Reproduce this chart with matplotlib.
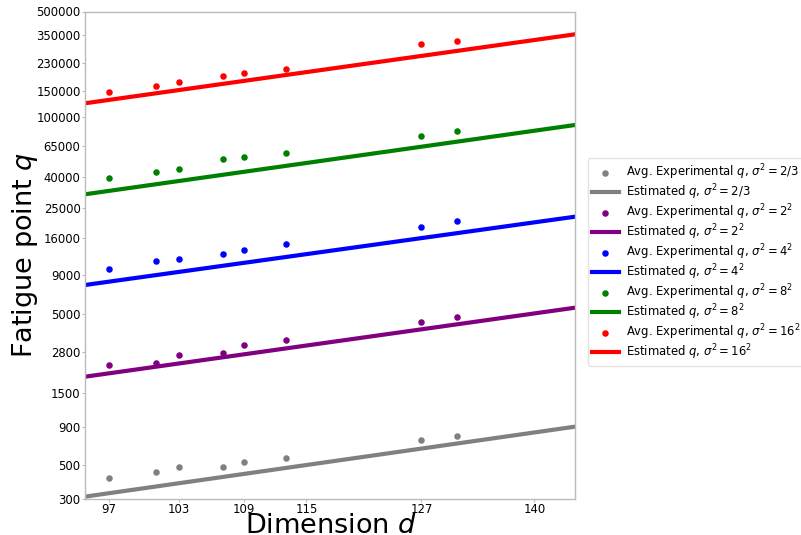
import matplotlib
matplotlib.use("Agg")
import matplotlib.pyplot as plt
from matplotlib.ticker import NullLocator, FixedLocator, FixedFormatter

# Data
dims = [97, 101, 103, 107, 109, 113, 127, 131]
sigma_labels = ["2/3", "2^2", "4^2", "8^2", "16^2"]
colors = ["gray", "purple", "blue", "green", "red"]

q_var_2_3 = [411, 452, 488, 490, 529, 560, 736, 786]
q_var_2sq = [2316, 2366, 2697, 2780, 3126, 3388, 4415, 4764]
q_var_4sq = [9936, 11270, 11570, 12540, 13270, 14600, 18830, 20630]
q_var_8sq = [39870, 43280, 45500, 53000, 54380, 58040, 75540, 80760]
q_var_16sq = [146900, 160200, 171000, 187400, 197000, 209400, 303500, 317700]

# Estimated-line values at the two ends of the x range
line_d = [95, 145]
est_2_3 = [311, 902]
est_2sq = [1929, 5513]
est_4sq = [7788, 22020]
est_8sq = [30970, 88900]
est_16sq = [123700, 353400]

x_ticks = [97, 103, 109, 115, 127, 140]
y_ticks = [300, 500, 900, 1500, 2800, 5000, 9000, 16000, 25000, 40000,
           65000, 100000, 150000, 230000, 350000, 500000]

experimental = [q_var_2_3, q_var_2sq, q_var_4sq, q_var_8sq, q_var_16sq]
estimated = [est_2_3, est_2sq, est_4sq, est_8sq, est_16sq]

W, H = 801, 535
fig = plt.figure(figsize=(W / 100, H / 100), dpi=100)
ax = fig.add_axes([85 / W, (H - 499) / H, 490 / W, 487.5 / H])

for exp, est, lab, c in zip(experimental, estimated, sigma_labels, colors):
    ax.scatter(dims, exp, s=22, color=c, zorder=3, linewidths=0,
               label=r"Avg. Experimental $q$, $\sigma^2 = %s$" % lab)
    ax.plot(line_d, est, color=c, linewidth=3,
            label=r"Estimated $q$, $\sigma^2 = %s$" % lab)

ax.set_xscale("log")
ax.set_yscale("log")
ax.set_xlim(95, 145)
ax.set_ylim(300, 500000)
ax.xaxis.set_major_locator(FixedLocator(x_ticks))
ax.xaxis.set_major_formatter(FixedFormatter([str(v) for v in x_ticks]))
ax.xaxis.set_minor_locator(NullLocator())
ax.yaxis.set_major_locator(FixedLocator(y_ticks))
ax.yaxis.set_major_formatter(FixedFormatter([str(v) for v in y_ticks]))
ax.yaxis.set_minor_locator(NullLocator())

for sp in ax.spines.values():
    sp.set_color("#bbbbbb")
    sp.set_linewidth(1.0)
ax.tick_params(axis="both", which="major", length=2.2, width=0.8,
               color="#bbbbbb", labelsize=8.4, pad=1.0)

fig.text(331 / W, 1 - 533 / H, r"Dimension $d$", fontsize=19.5,
         ha="center", va="baseline")
fig.text(25 / W, 1 - 255 / H, r"Fatigue point $q$", fontsize=19.5,
         ha="center", va="center", rotation=90)

leg = ax.legend(loc="center left", bbox_to_anchor=(1.0265, 0.486), fontsize=8.4,
                frameon=True, fancybox=True, framealpha=0.8, edgecolor="#dddddd",
                handlelength=2.28, labelspacing=0.03, borderpad=0.35,
                handletextpad=0.66, borderaxespad=0)

fig.savefig("out.png", dpi=100)
